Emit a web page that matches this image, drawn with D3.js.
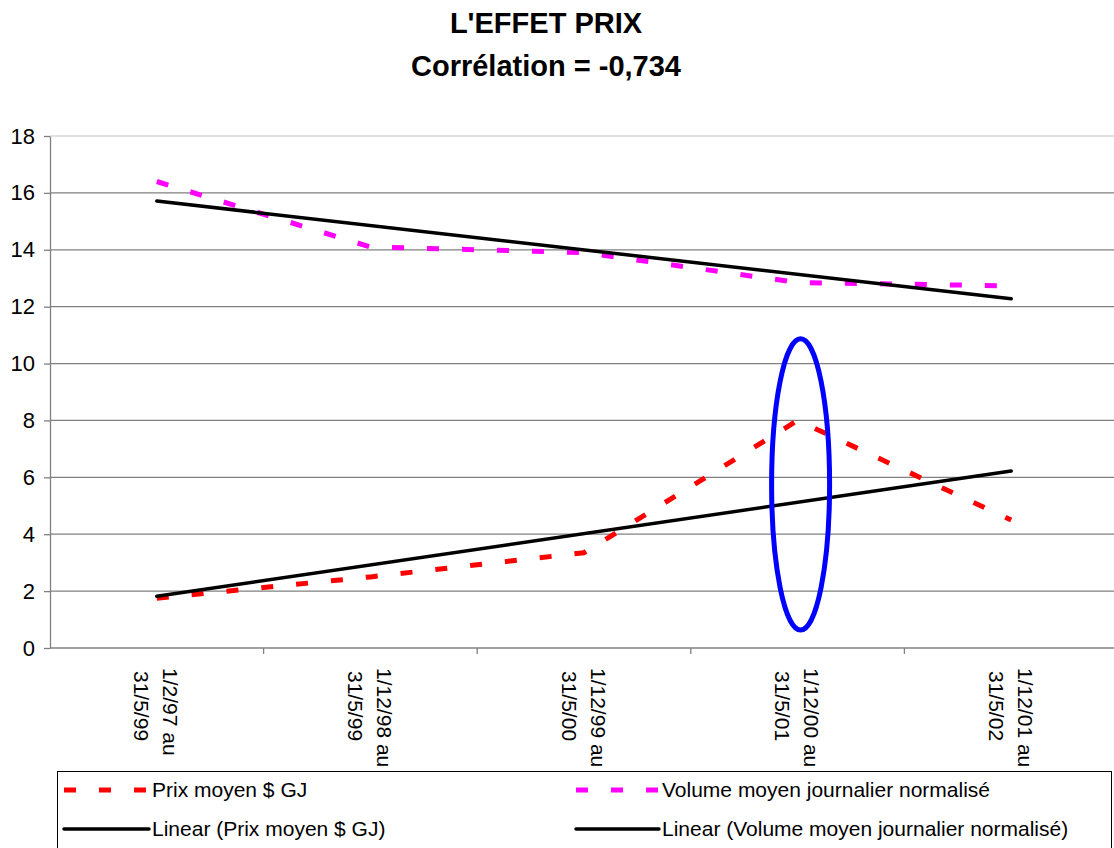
<!DOCTYPE html>
<html>
<head>
<meta charset="utf-8">
<script src="https://cdn.jsdelivr.net/npm/d3@7"></script>
<style>
  html, body { margin: 0; padding: 0; background: #fff; }
  svg { display: block; font-family: "Liberation Sans", Arial, sans-serif; }
</style>
</head>
<body>
<svg id="chart" width="1114" height="848"></svg>
<script>
// ---- data ----
const categories = [
  ["1/2/97 au", "31/5/99"],
  ["1/12/98 au", "31/5/99"],
  ["1/12/99 au", "31/5/00"],
  ["1/12/00 au", "31/5/01"],
  ["1/12/01 au", "31/5/02"]
];
const prixMoyen = [1.75, 2.5, 3.35, 8.0, 4.5];
const volumeMoyen = [16.4, 14.1, 13.9, 12.85, 12.73];
const yTicks = [0, 2, 4, 6, 8, 10, 12, 14, 16, 18];
const titleLines = ["L'EFFET PRIX", "Corrélation = -0,734"];
const legendLabels = ["Prix moyen $ GJ", "Volume moyen journalier normalisé",
  "Linear (Prix moyen $ GJ)", "Linear (Volume moyen journalier normalisé)"];
// highlighted annotation (ellipse around the 4th period), in data units
const highlightIndex = 3;
const highlightTop = 10.87;
const highlightBottom = 0.63;

// ---- layout ----
const svg = d3.select("#chart");
const pLeft = 50, pRight = 1118, pTop = 136, pBottom = 648;
const keys = categories.map(c => c.join(" "));
const x = d3.scaleBand().domain(keys).range([pLeft, pRight]);
const y = d3.scaleLinear().domain([0, 18]).range([pBottom, pTop]);
const cx = i => x(keys[i]) + x.bandwidth() / 2;

// title
svg.append("g").selectAll("text").data(titleLines).join("text")
  .attr("x", 546).attr("y", (d, i) => 33 + i * 43)
  .attr("text-anchor", "middle").attr("font-size", 29).attr("font-weight", "bold")
  .attr("fill", "#000").text(d => d);

// gridlines
svg.append("g").selectAll("line").data(yTicks.filter(t => t > 0)).join("line")
  .attr("x1", pLeft).attr("x2", pRight)
  .attr("y1", d => y(d)).attr("y2", d => y(d))
  .attr("stroke", d => d === 18 ? "#d8d8d8" : "#808080").attr("stroke-width", 1.3);

// y axis
const yAxis = svg.append("g").attr("transform", `translate(${pLeft},0)`)
  .call(d3.axisLeft(y).tickValues(yTicks).tickSize(6).tickSizeOuter(0).tickPadding(9));
yAxis.select(".domain").attr("stroke", "#808080").attr("stroke-width", 1.3);
yAxis.selectAll(".tick line").attr("stroke", "#808080").attr("stroke-width", 1.3);
yAxis.selectAll(".tick text").attr("font-size", 22).attr("fill", "#000")
  .attr("font-family", "Liberation Sans, Arial, sans-serif");

// x axis (ticks at category boundaries)
svg.append("line").attr("x1", pLeft).attr("x2", pRight).attr("y1", pBottom).attr("y2", pBottom)
  .attr("stroke", "#808080").attr("stroke-width", 1.3);
svg.append("g").selectAll("line").data(keys.slice(1)).join("line")
  .attr("x1", d => x(d)).attr("x2", d => x(d))
  .attr("y1", pBottom).attr("y2", pBottom + 6)
  .attr("stroke", "#808080").attr("stroke-width", 1.3);

// x labels, rotated
const xl = svg.append("g").selectAll("g").data(categories).join("g")
  .attr("transform", (d, i) => `translate(${cx(i) + 14},668) rotate(90)`);
xl.selectAll("text").data(d => d).join("text")
  .attr("x", (d, j) => j * 3).attr("y", (d, j) => j * 29)
  .attr("text-anchor", "start").attr("dominant-baseline", "central")
  .attr("font-size", 21).attr("fill", "#000").text(d => d);

// linear regression trend
function trend(vals) {
  const n = vals.length, xs = vals.map((_, i) => i + 1);
  const mx = d3.mean(xs), my = d3.mean(vals);
  const b = d3.sum(xs, (xx, i) => (xx - mx) * (vals[i] - my)) / d3.sum(xs, xx => (xx - mx) ** 2);
  const a = my - b * mx;
  return [a + b * 1, a + b * n];
}
const line = d3.line().x((d, i) => cx(i)).y(d => y(d));

// data series
svg.append("path").datum(volumeMoyen).attr("d", line)
  .attr("fill", "none").attr("stroke", "#FF00FF").attr("stroke-width", 5)
  .attr("stroke-dasharray", "12 23");
svg.append("path").datum(prixMoyen).attr("d", line)
  .attr("fill", "none").attr("stroke", "#FF0000").attr("stroke-width", 5)
  .attr("stroke-dasharray", "12 23");

// trend lines
[prixMoyen, volumeMoyen].forEach(vals => {
  const [y1, y2] = trend(vals);
  svg.append("line")
    .attr("x1", cx(0)).attr("y1", y(y1))
    .attr("x2", cx(vals.length - 1)).attr("y2", y(y2))
    .attr("stroke", "#000").attr("stroke-width", 3.5).attr("stroke-linecap", "round");
});

// highlight ellipse
svg.append("ellipse")
  .attr("cx", cx(highlightIndex) + 3)
  .attr("cy", (y(highlightTop) + y(highlightBottom)) / 2)
  .attr("rx", 29).attr("ry", (y(highlightBottom) - y(highlightTop)) / 2)
  .attr("fill", "none").attr("stroke", "#0000FF").attr("stroke-width", 5);

// legend
const lg = svg.append("g");
lg.append("rect").attr("x", 57.5).attr("y", 771.5).attr("width", 1054).attr("height", 90)
  .attr("fill", "#fff").attr("stroke", "#000").attr("stroke-width", 1);
const legendItems = [
  { label: legendLabels[0], color: "#FF0000", dash: "12 23", w: 5, sx: 64, tx: 152, sy: 790 },
  { label: legendLabels[1], color: "#FF00FF", dash: "12 23", w: 5, sx: 576, tx: 662, sy: 790 },
  { label: legendLabels[2], color: "#000", dash: null, w: 3.5, sx: 64, tx: 152, sy: 829 },
  { label: legendLabels[3], color: "#000", dash: null, w: 3.5, sx: 576, tx: 662, sy: 829 }
];
legendItems.forEach(it => {
  lg.append("line").attr("x1", it.sx).attr("x2", it.tx - 3).attr("y1", it.sy).attr("y2", it.sy)
    .attr("stroke", it.color).attr("stroke-width", it.w)
    .attr("stroke-dasharray", it.dash).attr("stroke-linecap", it.dash ? "butt" : "round");
  lg.append("text").attr("x", it.tx).attr("y", it.sy + 7)
    .attr("font-size", 21).attr("fill", "#000").text(it.label);
});
</script>
</body>
</html>
